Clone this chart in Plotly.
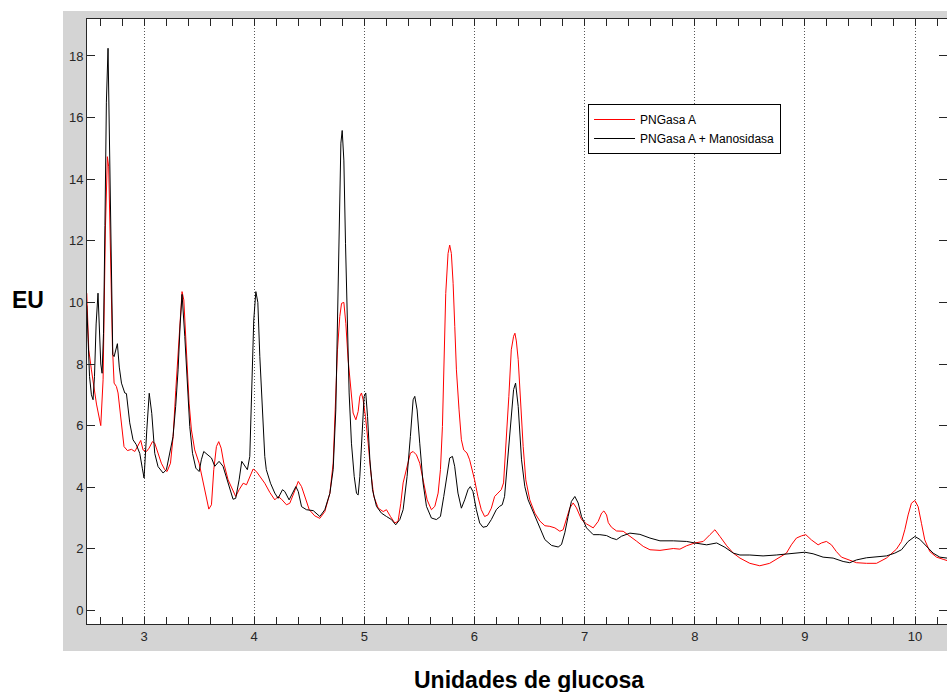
import plotly.graph_objects as go

# PNGasa A trace (glucose units vs. EU)
pngasa_x = [2.480, 2.498, 2.522, 2.568, 2.607, 2.628, 2.649, 2.667, 2.679, 2.698,
            2.713, 2.728, 2.749, 2.764, 2.779, 2.800, 2.818, 2.849, 2.886, 2.916,
            2.946, 2.970, 2.991, 3.022, 3.046, 3.076, 3.097, 3.127, 3.157, 3.188,
            3.209, 3.240, 3.264, 3.288, 3.309, 3.330, 3.345, 3.361, 3.385, 3.409,
            3.430, 3.460, 3.500, 3.536, 3.566, 3.588, 3.612, 3.633, 3.657, 3.678,
            3.700, 3.724, 3.763, 3.802, 3.832, 3.863, 3.900, 3.930, 3.960, 3.990,
            4.020, 4.051, 4.096, 4.142, 4.187, 4.217, 4.248, 4.293, 4.323, 4.360,
            4.400, 4.430, 4.460, 4.500, 4.550, 4.596, 4.641, 4.687, 4.717, 4.738,
            4.756, 4.777, 4.793, 4.814, 4.832, 4.853, 4.874, 4.898, 4.923, 4.944,
            4.959, 4.974, 4.989, 5.010, 5.035, 5.056, 5.086, 5.126, 5.171, 5.201,
            5.237, 5.276, 5.306, 5.331, 5.352, 5.376, 5.397, 5.418, 5.443, 5.473,
            5.503, 5.533, 5.570, 5.609, 5.640, 5.670, 5.691, 5.709, 5.724, 5.739,
            5.760, 5.775, 5.790, 5.806, 5.821, 5.836, 5.860, 5.881, 5.902, 5.932,
            5.956, 5.980, 6.001, 6.031, 6.062, 6.092, 6.122, 6.153, 6.183, 6.213,
            6.243, 6.264, 6.288, 6.312, 6.334, 6.355, 6.367, 6.380, 6.397, 6.418,
            6.442, 6.466, 6.502, 6.548, 6.594, 6.639, 6.684, 6.730, 6.775, 6.805,
            6.836, 6.866, 6.896, 6.926, 6.972, 7.017, 7.078, 7.123, 7.154, 7.175,
            7.199, 7.215, 7.244, 7.290, 7.350, 7.410, 7.471, 7.532, 7.593, 7.684,
            7.744, 7.805, 7.865, 7.926, 8.000, 8.077, 8.138, 8.183, 8.229, 8.290,
            8.350, 8.410, 8.500, 8.590, 8.680, 8.771, 8.832, 8.877, 8.923, 8.968,
            9.008, 9.059, 9.120, 9.150, 9.195, 9.241, 9.286, 9.332, 9.392, 9.468,
            9.559, 9.650, 9.740, 9.831, 9.877, 9.907, 9.937, 9.967, 9.998, 10.028,
            10.058, 10.088, 10.134, 10.195, 10.255, 10.290]
pngasa_y = [10.30, 8.46, 7.81, 6.70, 6.00, 7.49, 12.35, 14.73, 14.40, 11.27,
            8.57, 7.38, 7.27, 7.06, 6.62, 5.86, 5.32, 5.19, 5.23, 5.16,
            5.37, 5.52, 5.21, 5.16, 5.27, 5.48, 5.43, 5.10, 4.78, 4.57,
            4.51, 4.78, 5.65, 7.15, 8.45, 9.75, 10.35, 10.08, 8.35, 6.73,
            5.86, 5.21, 4.78, 4.13, 3.59, 3.29, 3.43, 4.57, 5.32, 5.48,
            5.27, 4.78, 4.24, 3.92, 3.70, 3.92, 4.13, 4.08, 4.35, 4.59,
            4.51, 4.35, 4.13, 3.83, 3.59, 3.70, 3.61, 3.43, 3.48, 3.81,
            4.19, 4.02, 3.70, 3.27, 3.07, 2.99, 3.21, 3.80, 4.78, 6.51,
            8.46, 9.54, 9.97, 10.00, 9.32, 8.13, 7.27, 6.41, 6.19, 6.46,
            6.95, 7.06, 6.84, 6.30, 5.43, 4.57, 3.70, 3.32, 3.21, 3.27,
            3.05, 2.84, 2.89, 3.48, 4.14, 4.46, 4.78, 5.11, 5.16, 5.05,
            4.78, 4.24, 3.59, 3.27, 3.38, 3.81, 4.57, 5.97, 8.13, 10.29,
            11.59, 11.86, 11.59, 10.62, 9.22, 7.81, 6.51, 5.54, 5.21, 5.11,
            4.89, 4.57, 4.24, 3.70, 3.27, 3.05, 3.10, 3.32, 3.70, 3.81,
            3.92, 4.14, 5.43, 6.95, 8.46, 8.90, 9.00, 8.75, 8.14, 6.73,
            5.32, 4.24, 3.59, 3.16, 2.90, 2.75, 2.73, 2.68, 2.57, 2.62,
            2.95, 3.33, 3.49, 3.33, 2.95, 2.81, 2.68, 2.89, 3.16, 3.23,
            3.10, 2.85, 2.70, 2.58, 2.57, 2.42, 2.25, 2.08, 1.97, 1.95,
            1.99, 2.01, 1.99, 2.10, 2.19, 2.24, 2.46, 2.62, 2.40, 2.10,
            1.86, 1.70, 1.53, 1.45, 1.53, 1.72, 1.86, 2.13, 2.35, 2.42,
            2.46, 2.29, 2.13, 2.19, 2.24, 2.13, 1.91, 1.73, 1.66, 1.55,
            1.53, 1.53, 1.70, 1.99, 2.24, 2.62, 3.10, 3.48, 3.57, 3.37,
            2.83, 2.29, 1.91, 1.73, 1.66, 1.62]

# PNGasa A + Manosidasa trace
manos_x = [2.480, 2.490, 2.505, 2.522, 2.537, 2.550, 2.565, 2.582, 2.595, 2.607,
           2.619, 2.632, 2.645, 2.658, 2.673, 2.683, 2.693, 2.705, 2.716, 2.728,
           2.740, 2.758, 2.775, 2.795, 2.825, 2.840, 2.870, 2.900, 2.930, 2.961,
           2.985, 3.000, 3.025, 3.047, 3.070, 3.097, 3.127, 3.173, 3.203, 3.233,
           3.263, 3.287, 3.309, 3.328, 3.345, 3.370, 3.391, 3.415, 3.440, 3.470,
           3.500, 3.520, 3.542, 3.582, 3.612, 3.642, 3.681, 3.717, 3.763, 3.808,
           3.832, 3.863, 3.887, 3.914, 3.938, 3.960, 3.978, 3.996, 4.015, 4.033,
           4.051, 4.075, 4.096, 4.110, 4.148, 4.187, 4.217, 4.257, 4.278, 4.317,
           4.378, 4.400, 4.430, 4.475, 4.536, 4.596, 4.641, 4.687, 4.717, 4.741,
           4.756, 4.771, 4.787, 4.799, 4.814, 4.829, 4.844, 4.862, 4.883, 4.908,
           4.929, 4.944, 4.959, 4.980, 4.998, 5.013, 5.029, 5.050, 5.074, 5.110,
           5.155, 5.201, 5.246, 5.285, 5.322, 5.352, 5.388, 5.418, 5.443, 5.458,
           5.479, 5.503, 5.533, 5.564, 5.609, 5.654, 5.691, 5.721, 5.751, 5.775,
           5.800, 5.820, 5.850, 5.881, 5.911, 5.941, 5.962, 5.986, 6.017, 6.047,
           6.077, 6.113, 6.153, 6.198, 6.228, 6.252, 6.273, 6.303, 6.334, 6.355,
           6.373, 6.397, 6.427, 6.457, 6.487, 6.540, 6.590, 6.639, 6.700, 6.760,
           6.790, 6.820, 6.850, 6.880, 6.911, 6.941, 6.972, 7.017, 7.078, 7.138,
           7.199, 7.244, 7.290, 7.335, 7.411, 7.502, 7.593, 7.684, 7.805, 7.926,
           8.000, 8.108, 8.199, 8.274, 8.350, 8.410, 8.500, 8.620, 8.740, 8.860,
           8.999, 9.074, 9.165, 9.256, 9.347, 9.407, 9.468, 9.559, 9.650, 9.740,
           9.816, 9.877, 9.937, 9.998, 10.043, 10.104, 10.164, 10.225, 10.290]
manos_y = [9.90, 8.90, 7.60, 7.00, 6.84, 7.60, 9.30, 10.30, 9.30, 8.00,
           7.70, 9.00, 12.50, 16.50, 18.25, 16.00, 13.00, 9.80, 8.30, 8.24,
           8.40, 8.66, 7.90, 7.38, 7.06, 7.04, 6.09, 5.54, 5.38, 5.10,
           4.60, 4.30, 5.86, 7.05, 6.40, 5.10, 4.67, 4.46, 4.57, 5.10,
           5.64, 6.62, 7.81, 9.30, 10.26, 8.89, 7.49, 5.97, 5.10, 4.62,
           4.51, 4.89, 5.16, 5.05, 4.95, 4.68, 4.84, 4.68, 4.13, 3.61,
           3.64, 4.24, 4.84, 4.68, 4.57, 5.00, 6.94, 9.43, 10.35, 10.00,
           8.24, 6.40, 5.00, 4.57, 4.13, 3.81, 3.64, 3.92, 3.86, 3.59,
           4.02, 3.86, 3.37, 3.27, 3.24, 3.05, 3.27, 3.80, 4.57, 6.51,
           9.76, 13.00, 15.17, 15.58, 14.62, 11.92, 9.22, 7.06, 5.43, 4.35,
           3.80, 3.75, 4.35, 5.65, 6.95, 7.06, 6.30, 4.90, 3.92, 3.38,
           3.16, 3.05, 2.95, 2.78, 2.95, 3.27, 4.35, 5.65, 6.84, 6.95,
           6.51, 5.43, 4.14, 3.38, 3.00, 2.95, 3.05, 3.70, 4.46, 4.95,
           5.00, 4.68, 3.81, 3.32, 3.59, 3.92, 4.02, 3.86, 3.27, 2.84,
           2.70, 2.73, 2.95, 3.27, 3.38, 3.43, 3.70, 4.90, 6.30, 7.17,
           7.38, 6.62, 4.89, 4.02, 3.59, 3.16, 2.73, 2.30, 2.11, 2.06,
           2.14, 2.52, 3.05, 3.54, 3.70, 3.49, 3.05, 2.68, 2.46, 2.46,
           2.43, 2.35, 2.30, 2.41, 2.51, 2.47, 2.35, 2.26, 2.26, 2.24,
           2.19, 2.13, 2.19, 2.05, 1.86, 1.80, 1.80, 1.77, 1.80, 1.84,
           1.89, 1.84, 1.73, 1.70, 1.59, 1.55, 1.64, 1.71, 1.73, 1.77,
           1.86, 1.97, 2.24, 2.40, 2.31, 2.08, 1.86, 1.73, 1.70]

x_tick_values = [3, 4, 5, 6, 7, 8, 9, 10]
y_tick_values = [0, 2, 4, 6, 8, 10, 12, 14, 16, 18]
series_names = ["PNGasa A", "PNGasa A + Manosidasa"]

X_RANGE = [2.482, 10.29]
Y_RANGE = [-0.44, 19.2]
AXIS_COLOR = "#262626"
FRAME_GRAY = "#d4d4d4"
FONT = "Liberation Sans, Arial, Helvetica, sans-serif"

fig = go.Figure()
fig.add_trace(go.Scatter(x=pngasa_x, y=pngasa_y, mode="lines", name=series_names[0],
                         line=dict(color="#ff0000", width=1)))
fig.add_trace(go.Scatter(x=manos_x, y=manos_y, mode="lines", name=series_names[1],
                         line=dict(color="#000000", width=1), yaxis="y2"))

fig.update_layout(
    width=947, height=692,
    margin=dict(l=87, r=0, t=19, b=68),
    paper_bgcolor="white",
    plot_bgcolor="white",
    font=dict(family=FONT, color=AXIS_COLOR),
    showlegend=True,
    legend=dict(x=0.5826, y=0.8595, xanchor="left", yanchor="top",
                bgcolor="white", bordercolor="#000000", borderwidth=1,
                font=dict(family=FONT, size=12, color="#000000"),
                itemwidth=41, tracegroupgap=0),
    xaxis=dict(range=X_RANGE, tickvals=x_tick_values, ticks="inside", ticklen=7,
               tickcolor=AXIS_COLOR, showline=True, linecolor=AXIS_COLOR, linewidth=1,
               mirror="ticks", showgrid=True, gridcolor="#555555", gridwidth=1,
               griddash="1px,2px", zeroline=False, automargin=False,
               tickfont=dict(family=FONT, size=13, color=AXIS_COLOR),
               minor=dict(dtick=0.2, tick0=0, ticks="inside", ticklen=7,
                          tickcolor=AXIS_COLOR, showgrid=False)),
    yaxis=dict(range=Y_RANGE, tickvals=y_tick_values, ticks="inside", ticklen=8,
               tickcolor=AXIS_COLOR, showline=True, linecolor=AXIS_COLOR, linewidth=1,
               mirror=False, showgrid=False, zeroline=False, automargin=False,
               tickfont=dict(family=FONT, size=13, color=AXIS_COLOR)),
    yaxis2=dict(range=Y_RANGE, tickvals=y_tick_values, overlaying="y", side="right",
                anchor="x", ticks="inside", ticklen=8, tickcolor=AXIS_COLOR,
                showticklabels=False, showline=False, showgrid=False,
                zeroline=False, automargin=False),
)

# gray frame around the axes box
band = dict(type="rect", xref="paper", yref="paper", layer="below",
            fillcolor=FRAME_GRAY, line=dict(width=0))
fig.add_shape(**band, x0=-0.0279, x1=0, y0=-0.0446, y1=1.0132)
fig.add_shape(**band, x0=0, x1=1, y0=1, y1=1.0132)
fig.add_shape(**band, x0=0, x1=1, y0=-0.0446, y1=0)

fig.add_annotation(text="<b>EU</b>", xref="paper", yref="paper", x=-0.0686, y=0.5355,
                   xanchor="center", yanchor="middle", showarrow=False,
                   font=dict(family=FONT, size=23, color="#000000"))
fig.add_annotation(text="<b>Unidades de glucosa</b>", xref="paper", yref="paper",
                   x=0.5145, y=-0.0926, xanchor="center", yanchor="middle",
                   showarrow=False, font=dict(family=FONT, size=23, color="#000000"))

fig.write_html("out.html")
